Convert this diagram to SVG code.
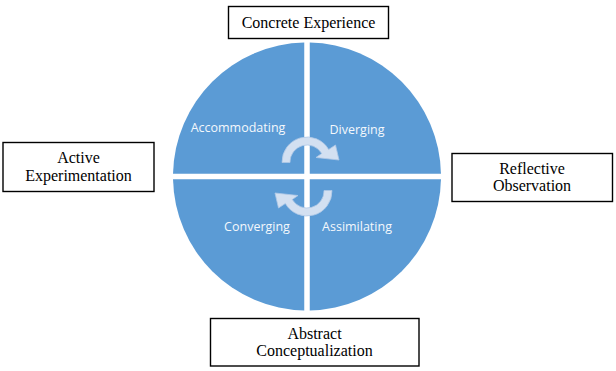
<svg xmlns="http://www.w3.org/2000/svg" width="616" height="371" viewBox="0 0 616 371">
<style>
.quad{fill:#5B9BD5}
.ql{font-family:"Open Sans","Liberation Sans",sans-serif;font-size:12.5px;fill:#F4F8FC;text-anchor:middle}
.box{fill:#fff;stroke:#000;stroke-width:1.4}
.bt{font-family:"Liberation Serif","Times New Roman",serif;font-size:16px;fill:#000;text-anchor:middle}
.arr{fill:#D3E0F1;stroke:#AFC8E6;stroke-width:0.8}
</style>
<rect width="616" height="371" fill="#fff"/>
<g id="circle">
<path class="quad" d="M304.25 173.75 L304.25 42.53 A134 134 0 0 0 173.03 173.75 Z"/>
<path class="quad" d="M309.75 173.75 L309.75 42.53 A134 134 0 0 1 440.97 173.75 Z"/>
<path class="quad" d="M309.75 179.25 L440.97 179.25 A134 134 0 0 1 309.75 310.47 Z"/>
<path class="quad" d="M304.25 179.25 L304.25 310.47 A134 134 0 0 1 173.03 179.25 Z"/>
</g>
<g id="q-accommodating"><text class="ql" x="238" y="132">Accommodating</text></g>
<g id="q-diverging"><text class="ql" x="357" y="134">Diverging</text></g>
<g id="q-converging"><text class="ql" x="257" y="231">Converging</text></g>
<g id="q-assimilating"><text class="ql" x="357" y="231">Assimilating</text></g>
<g id="cycle-arrows">
<path id="arrow-top" class="arr" d="M282 162.5 A25 25 0 0 1 328.65 149.5 L335.5 145 L339 160 L316 157.5 L321.72 153.5 A17 17 0 0 0 290 162.5 Z"/>
<path id="arrow-bottom" class="arr" transform="rotate(180 307 176.5)" d="M282 162.5 A25 25 0 0 1 328.65 149.5 L335.5 145 L339 160 L316 157.5 L321.72 153.5 A17 17 0 0 0 290 162.5 Z"/>
</g>
<g id="concrete-experience">
<rect class="box" x="228.5" y="6.5" width="160" height="32"/>
<text class="bt" x="308.5" y="28">Concrete Experience</text>
</g>
<g id="active-experimentation">
<rect class="box" x="3" y="142.5" width="151" height="49"/>
<text class="bt" x="78.5" y="163">Active</text>
<text class="bt" x="78.5" y="181">Experimentation</text>
</g>
<g id="reflective-observation">
<rect class="box" x="452" y="153.5" width="160.5" height="48"/>
<text class="bt" x="532" y="174">Reflective</text>
<text class="bt" x="532" y="191">Observation</text>
</g>
<g id="abstract-conceptualization">
<rect class="box" x="210.5" y="318.5" width="208.5" height="47.5"/>
<text class="bt" x="314.5" y="338.5">Abstract</text>
<text class="bt" x="314.5" y="356">Conceptualization</text>
</g>
</svg>
